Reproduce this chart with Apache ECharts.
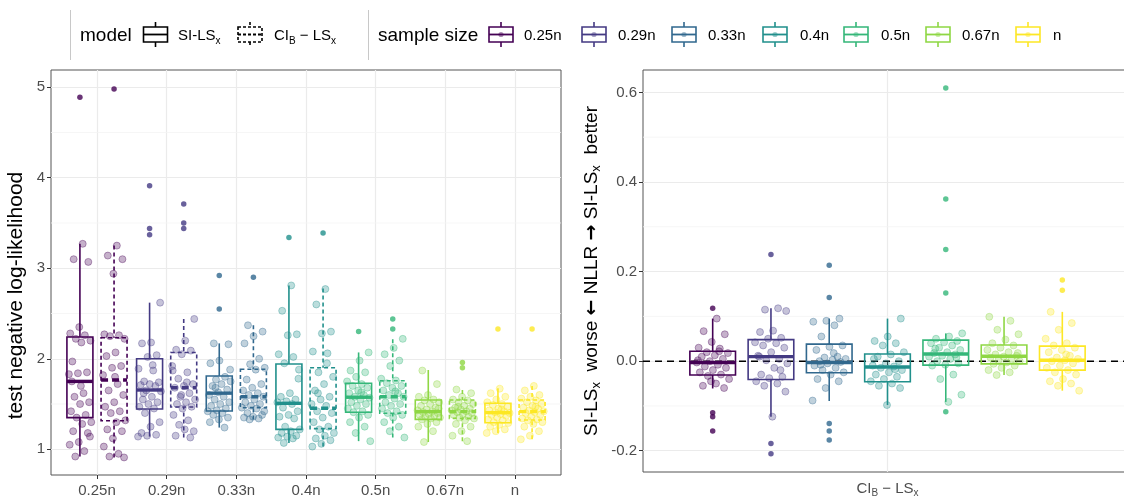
<!DOCTYPE html>
<html><head><meta charset="utf-8">
<script src="https://cdn.jsdelivr.net/npm/echarts@6/dist/echarts.min.js"></script>
<style>html,body{margin:0;padding:0;background:#fff}#c{width:1124px;height:498px}</style>
</head><body><div id="c"></div>
<script>
// ---------------- data ----------------
const sampleSizes = ['0.25n','0.29n','0.33n','0.4n','0.5n','0.67n','n'];
const colors = ['#440154','#443A83','#31688E','#21908C','#35B779','#8FD744','#FDE725'];
const leftTicks = [1,2,3,4,5];
const leftMinor = [1.5,2.5,3.5,4.5];
const rightTicks = [-0.2,0,0.2,0.4,0.6];
const rightMinor = [-0.1,0.1,0.3,0.5];

// box stats: [lower whisker, Q1, median, Q3, upper whisker]
const siBoxes = [
  [0.92,1.35,1.75,2.24,3.27],[1.14,1.445,1.655,2.00,2.62],[1.24,1.423,1.62,1.81,2.17],
  [1.07,1.22,1.508,1.943,2.81],[1.09,1.41,1.575,1.73,2.07],[1.08,1.331,1.416,1.545,1.876],
  [1.18,1.294,1.405,1.508,1.674]];
const ciBoxes = [
  [0.91,1.316,1.766,2.233,3.25],[1.13,1.467,1.68,2.07,2.44],[1.33,1.46,1.581,1.884,2.37],
  [1.03,1.228,1.453,1.90,2.775],[1.13,1.398,1.581,1.758,2.215],[1.09,1.342,1.416,1.545,1.655],
  [1.11,1.324,1.416,1.545,1.70]];
const siOutliers = [[4.89],[3.91,3.44,3.37],[2.92,2.55],[3.34],[2.30],[],[2.33]];
const ciOutliers = [[4.98],[3.71,3.50,3.44],[2.90],[3.39],[2.44,2.33],[1.96,1.90],[2.33]];
const siPoints = [
  [3.27,3.10,3.07,2.35,2.28,2.26,2.22,2.20,2.18,1.97,1.85,1.84,1.83,1.62,1.58,1.52,1.50,1.42,1.38,1.35,1.30,1.28,1.20,1.18,1.08,1.05,0.98,0.92,1.14,1.70,1.75],
  [2.62,2.18,2.17,2.04,2.02,1.89,1.87,1.75,1.74,1.72,1.71,1.70,1.65,1.64,1.58,1.55,1.52,1.50,1.47,1.45,1.40,1.30,1.25,1.18,1.16,1.15,1.14,1.93,1.62],
  [2.17,2.16,1.98,1.95,1.80,1.77,1.75,1.72,1.70,1.66,1.63,1.60,1.58,1.55,1.52,1.50,1.48,1.45,1.43,1.42,1.40,1.38,1.35,1.33,1.30,1.24,1.68,1.88],
  [2.81,2.53,2.27,2.26,2.05,2.02,1.95,1.88,1.62,1.58,1.55,1.53,1.52,1.50,1.46,1.42,1.38,1.36,1.34,1.25,1.22,1.20,1.18,1.15,1.14,1.13,1.12,1.07,1.78],
  [2.07,1.98,1.87,1.85,1.80,1.75,1.72,1.70,1.68,1.65,1.62,1.60,1.58,1.57,1.55,1.52,1.50,1.48,1.45,1.42,1.41,1.38,1.35,1.30,1.25,1.18,1.09,1.63],
  [1.87,1.72,1.60,1.58,1.55,1.54,1.52,1.50,1.48,1.46,1.44,1.43,1.42,1.41,1.40,1.39,1.38,1.37,1.36,1.35,1.34,1.33,1.30,1.28,1.25,1.20,1.08,1.45],
  [1.67,1.62,1.58,1.55,1.52,1.50,1.49,1.47,1.45,1.43,1.42,1.41,1.40,1.39,1.38,1.37,1.35,1.33,1.32,1.30,1.29,1.27,1.25,1.22,1.20,1.18,1.44]];
const ciPoints = [
  [3.25,3.14,3.10,2.94,2.27,2.26,2.25,2.22,2.07,2.03,1.92,1.90,1.82,1.72,1.65,1.60,1.52,1.47,1.42,1.40,1.32,1.30,1.22,1.20,1.12,1.03,0.95,0.92,0.91,1.80],
  [2.44,2.20,2.10,2.09,2.05,1.87,1.85,1.78,1.72,1.70,1.68,1.62,1.58,1.55,1.52,1.50,1.47,1.45,1.38,1.32,1.27,1.20,1.22,1.15,1.13,1.60,1.92,1.74],
  [2.37,2.30,2.25,2.17,2.00,1.94,1.90,1.88,1.77,1.72,1.68,1.65,1.62,1.60,1.58,1.55,1.52,1.50,1.48,1.46,1.45,1.40,1.38,1.36,1.35,1.34,1.33,1.42],
  [2.77,2.60,2.30,2.28,2.08,2.06,1.85,1.80,1.72,1.65,1.58,1.55,1.50,1.48,1.42,1.40,1.35,1.30,1.25,1.22,1.18,1.15,1.12,1.10,1.06,1.03,1.95,1.62],
  [2.22,2.12,2.05,1.98,1.92,1.78,1.76,1.73,1.70,1.68,1.65,1.62,1.60,1.58,1.56,1.52,1.50,1.48,1.45,1.42,1.40,1.38,1.35,1.30,1.25,1.20,1.13,1.64],
  [1.66,1.62,1.58,1.55,1.54,1.52,1.50,1.48,1.46,1.45,1.44,1.43,1.42,1.41,1.40,1.39,1.38,1.36,1.35,1.34,1.32,1.28,1.25,1.20,1.15,1.09,1.47],
  [1.70,1.65,1.60,1.58,1.56,1.54,1.52,1.50,1.48,1.46,1.45,1.43,1.42,1.41,1.40,1.38,1.36,1.34,1.33,1.32,1.30,1.28,1.25,1.20,1.15,1.11,1.47]];

// right panel: NLLR (CI_B - LS_x)
const diffBoxes = [
  [-0.061,-0.031,-0.003,0.022,0.095],[-0.124,-0.041,0.010,0.048,0.118],[-0.089,-0.026,-0.003,0.038,0.095],
  [-0.098,-0.046,-0.013,0.016,0.095],[-0.091,-0.009,0.016,0.047,0.062],[-0.031,-0.006,0.011,0.036,0.099],
  [-0.066,-0.020,0.002,0.0335,0.110]];
const diffOutliers = [[0.118,-0.115,-0.124,-0.156],[0.238,-0.184,-0.207],[0.214,0.142,-0.139,-0.156,-0.176],[],
  [0.61,0.362,0.249,0.152,-0.113],[],[0.181,0.158]];
const diffPoints = [
  [0.095,0.067,0.060,0.043,0.030,0.028,0.020,0.018,0.013,0.010,0.005,0.000,-0.003,-0.008,-0.012,-0.015,-0.020,-0.025,-0.030,-0.033,-0.040,-0.050,-0.055,-0.060,-0.045,0.002,0.022],
  [0.118,0.115,0.112,0.068,0.065,0.052,0.050,0.042,0.040,0.035,0.030,0.020,0.012,0.005,0.002,-0.005,-0.015,-0.030,-0.035,-0.038,-0.045,-0.050,-0.055,-0.068,-0.124,0.010,-0.020],
  [0.095,0.090,0.088,0.080,0.055,0.035,0.032,0.025,0.010,0.008,0.005,0.003,0.000,-0.002,-0.005,-0.010,-0.015,-0.020,-0.025,-0.030,-0.040,-0.045,-0.060,-0.088,0.018,-0.008],
  [0.095,0.055,0.045,0.040,0.035,0.020,0.015,0.010,0.000,-0.005,-0.010,-0.012,-0.015,-0.020,-0.025,-0.030,-0.035,-0.040,-0.045,-0.050,-0.055,-0.060,-0.098,0.005,-0.018],
  [0.062,0.055,0.050,0.045,0.042,0.040,0.035,0.030,0.025,0.020,0.018,0.015,0.012,0.010,0.005,0.000,-0.005,-0.008,-0.010,-0.030,-0.040,-0.075,-0.091,0.028,0.008],
  [0.099,0.090,0.070,0.060,0.048,0.040,0.035,0.030,0.025,0.020,0.015,0.012,0.010,0.008,0.005,0.002,0.000,-0.003,-0.006,-0.010,-0.015,-0.020,-0.025,-0.031,0.018],
  [0.110,0.085,0.070,0.050,0.040,0.035,0.030,0.025,0.020,0.012,0.008,0.005,0.002,0.000,-0.005,-0.010,-0.015,-0.020,-0.025,-0.030,-0.040,-0.045,-0.050,-0.055,-0.066,0.015]];

// ---------------- helpers ----------------
const FONT = '"Liberation Sans", Arial, Helvetica, sans-serif';
const rgba = (hex, a) => { const n = parseInt(hex.slice(1), 16); return `rgba(${n >> 16},${(n >> 8) & 255},${n & 255},${a})`; };
const jit = i => ((((i + 1) * 0.6180339887) % 1) - 0.5) * 2;

const LEFT_DODGE = 0.245, LEFT_BW = 0.373, LEFT_JIT = 0.17;
const RIGHT_STEP = 0.143, RIGHT_BW = 0.112, RIGHT_JIT = 0.042;

function boxRender(bw, dashed) {
  return function (params, api) {
    const x = api.value(0);
    const lo = api.coord([x, api.value(1)]);
    const q1 = api.coord([x, api.value(2)]);
    const md = api.coord([x, api.value(3)]);
    const q3 = api.coord([x, api.value(4)]);
    const hi = api.coord([x, api.value(5)]);
    const w = api.size([bw, 0])[0];
    const col = colors[api.value(6)];
    const dash = dashed ? [4, 3] : null;
    const ls = { stroke: col, lineWidth: 1.6, lineDash: dash, fill: null };
    return {
      type: 'group', children: [
        { type: 'line', shape: { x1: hi[0], y1: hi[1], x2: q3[0], y2: q3[1] }, style: ls },
        { type: 'line', shape: { x1: lo[0], y1: lo[1], x2: q1[0], y2: q1[1] }, style: ls },
        { type: 'rect', shape: { x: q3[0] - w / 2, y: q3[1], width: w, height: q1[1] - q3[1] }, style: { stroke: col, lineWidth: 1.6, lineDash: dash, fill: 'rgba(255,255,255,0)' } },
        { type: 'line', shape: { x1: md[0] - w / 2, y1: md[1], x2: md[0] + w / 2, y2: md[1] }, style: { stroke: col, lineWidth: 3.4, lineDash: dashed ? [7, 4] : null } }
      ]
    };
  };
}
function hLineRender(style) {
  return function (params, api) {
    const p = api.coord([api.value(0), api.value(1)]);
    const cs = params.coordSys;
    return { type: 'line', shape: { x1: cs.x, y1: p[1], x2: cs.x + cs.width, y2: p[1] }, style: style };
  };
}

// left-panel series data
const boxDataSI = siBoxes.map((b, i) => [i + 1 - LEFT_DODGE, ...b, i]);
const boxDataCI = ciBoxes.map((b, i) => [i + 1 + LEFT_DODGE, ...b, i]);
const jitterLeft = [], outLeft = [];
[[siPoints, siOutliers, -LEFT_DODGE], [ciPoints, ciOutliers, LEFT_DODGE]].forEach(([pts, outs, dx]) => {
  pts.forEach((arr, g) => arr.forEach((v, k) => jitterLeft.push({
    value: [g + 1 + dx + jit(k + g * 7) * LEFT_JIT, v],
    itemStyle: { color: rgba(colors[g], 0.38), borderColor: rgba(colors[g], 0.55), borderWidth: 0.8 }
  })));
  outs.forEach((arr, g) => arr.forEach(v => outLeft.push({ value: [g + 1 + dx, v], itemStyle: { color: colors[g] } })));
});
// right-panel series data
const rightX = g => 1 + (g - 3) * RIGHT_STEP;
const boxDataDiff = diffBoxes.map((b, i) => [rightX(i), ...b, i]);
const jitterRight = [], outRight = [];
diffPoints.forEach((arr, g) => arr.forEach((v, k) => jitterRight.push({
  value: [rightX(g) + jit(k + g * 5) * RIGHT_JIT, v],
  itemStyle: { color: rgba(colors[g], 0.38), borderColor: rgba(colors[g], 0.55), borderWidth: 0.8 }
})));
diffOutliers.forEach((arr, g) => arr.forEach(v => outRight.push({ value: [rightX(g), v], itemStyle: { color: colors[g] } })));

// ---------------- legend (graphic) ----------------
const richSub = (size) => ({
  a: { fontSize: size, fontFamily: FONT, color: '#000', lineHeight: size + 6 },
  s: { fontSize: Math.round(size * 0.68), fontFamily: FONT, color: '#000', lineHeight: 10, verticalAlign: 'bottom' }
});
function keyGlyph(cx, col, dashed, dot) {
  const dash = dashed ? [3, 2] : null;
  const st = { stroke: col, lineWidth: 1.6, lineDash: dash, fill: null };
  const els = [
    { type: 'line', shape: { x1: cx, y1: 22, x2: cx, y2: 27 }, style: st },
    { type: 'line', shape: { x1: cx, y1: 42, x2: cx, y2: 47 }, style: st },
    { type: 'rect', shape: { x: cx - 12, y: 27, width: 24, height: 15 }, style: { stroke: col, lineWidth: 1.6, lineDash: dash, fill: '#fff' } },
    { type: 'line', shape: { x1: cx - 12, y1: 34.5, x2: cx + 12, y2: 34.5 }, style: { stroke: col, lineWidth: 1.8, lineDash: dash } }
  ];
  if (dot) els.push({ type: 'circle', shape: { cx: cx, cy: 34.5, r: 2.6 }, style: { fill: rgba(col, 0.45), stroke: null } });
  return els;
}
const keyX = [501, 594, 684, 775, 856, 938, 1028];
const labX = [524, 618, 708, 800, 881, 962, 1053];
const graphics = [
  { type: 'line', shape: { x1: 70.5, y1: 10, x2: 70.5, y2: 60 }, style: { stroke: '#C8C8C8', lineWidth: 1 } },
  { type: 'line', shape: { x1: 368.5, y1: 10, x2: 368.5, y2: 60 }, style: { stroke: '#C8C8C8', lineWidth: 1 } },
  { type: 'text', x: 80, y: 36, style: { text: 'model', font: '19px ' + FONT, fill: '#000', verticalAlign: 'middle' } },
  ...keyGlyph(155.5, '#000', false, false),
  { type: 'text', x: 178, y: 36, style: { text: '{a|SI-LS}{s|x}', rich: richSub(15), verticalAlign: 'middle' } },
  ...keyGlyph(250, '#000', true, false),
  { type: 'text', x: 274, y: 36, style: { text: '{a|CI}{s|B}{a| − LS}{s|x}', rich: richSub(15), verticalAlign: 'middle' } },
  { type: 'text', x: 378, y: 36, style: { text: 'sample size', font: '19px ' + FONT, fill: '#000', verticalAlign: 'middle' } }
];
sampleSizes.forEach((s, i) => {
  graphics.push(...keyGlyph(keyX[i], colors[i], false, true));
  graphics.push({ type: 'text', x: labX[i], y: 36, style: { text: s, font: '15px ' + FONT, fill: '#000', verticalAlign: 'middle' } });
});

// ---------------- chart ----------------
const gridLine = { show: true, lineStyle: { color: '#EBEBEB', width: 1.2 } };
const tickStyle = { show: true, length: 4, lineStyle: { color: '#333', width: 1 } };
const labelStyle = { color: '#4D4D4D', fontSize: 15, fontFamily: FONT };

const option = {
  animation: false,
  backgroundColor: '#fff',
  graphic: graphics,
  grid: [
    { left: 51, top: 70, width: 510, height: 405, show: true, borderColor: '#555', borderWidth: 1, backgroundColor: 'transparent', outerBoundsMode: 'none' },
    { left: 643, top: 70, width: 489, height: 402, show: true, borderColor: '#555', borderWidth: 1, backgroundColor: 'transparent', outerBoundsMode: 'none' }
  ],
  xAxis: [
    { type: 'value', gridIndex: 0, min: 0.34, max: 7.66, axisLine: { show: false },
      axisTick: { ...tickStyle, customValues: sampleSizes.map((s, i) => i + 1) },
      axisLabel: { ...labelStyle, margin: 8, customValues: sampleSizes.map((s, i) => i + 1), formatter: v => sampleSizes[Math.round(v) - 1] },
      splitLine: gridLine },
    { type: 'value', gridIndex: 1, min: 0.4, max: 1.6, axisLine: { show: false },
      axisTick: { ...tickStyle, customValues: [1] },
      axisLabel: { margin: 8, customValues: [1], formatter: () => '{a|CI}{s|B}{a| − LS}{s|x}',
        rich: { a: { color: '#4D4D4D', fontSize: 15, fontFamily: FONT, lineHeight: 18 }, s: { color: '#4D4D4D', fontSize: 10, fontFamily: FONT, lineHeight: 8, verticalAlign: 'bottom' } } },
      splitLine: gridLine }
  ],
  yAxis: [
    { type: 'value', gridIndex: 0, min: 0.716, max: 5.19, axisLine: { show: false },
      axisTick: { ...tickStyle, customValues: leftTicks },
      axisLabel: { ...labelStyle, margin: 6, customValues: leftTicks },
      splitLine: gridLine,
      name: 'test negative log-likelihood', nameLocation: 'middle', nameGap: 24,
      nameTextStyle: { color: '#000', fontSize: 21, fontFamily: FONT, padding: [0, 46, 0, 0] } },
    { type: 'value', gridIndex: 1, min: -0.2475, max: 0.65, axisLine: { show: false },
      axisTick: { ...tickStyle, customValues: rightTicks },
      axisLabel: { ...labelStyle, margin: 6, customValues: rightTicks, formatter: v => v.toFixed(1) },
      splitLine: gridLine,
      name: '{a|SI-LS}{s|x}{a|  worse }{r|←}{a| NLLR }{r|→}{a| SI-LS}{s|x}{a|  better}', nameLocation: 'middle', nameGap: 40,
      nameTextStyle: { rich: {
        a: { color: '#000', fontSize: 19, fontFamily: FONT, lineHeight: 22 },
        r: { color: '#000', fontSize: 19, fontFamily: '"DejaVu Sans", sans-serif', fontWeight: 'bold', lineHeight: 22 },
        s: { color: '#000', fontSize: 13, fontFamily: FONT, lineHeight: 10, verticalAlign: 'bottom' } } } }
  ],
  series: [
    { type: 'custom', xAxisIndex: 0, yAxisIndex: 0, z: 1, silent: true, data: leftMinor.map(v => [1, v]),
      renderItem: hLineRender({ stroke: '#F4F4F4', lineWidth: 0.8 }) },
    { type: 'custom', xAxisIndex: 0, yAxisIndex: 0, z: 3, silent: true, data: boxDataSI, renderItem: boxRender(LEFT_BW, false) },
    { type: 'custom', xAxisIndex: 0, yAxisIndex: 0, z: 3, silent: true, data: boxDataCI, renderItem: boxRender(LEFT_BW, true) },
    { type: 'scatter', xAxisIndex: 0, yAxisIndex: 0, z: 4, silent: true, symbolSize: 7, data: jitterLeft },
    { type: 'scatter', xAxisIndex: 0, yAxisIndex: 0, z: 5, silent: true, symbolSize: 5.5, data: outLeft },

    { type: 'custom', xAxisIndex: 1, yAxisIndex: 1, z: 1, silent: true, data: rightMinor.map(v => [1, v]),
      renderItem: hLineRender({ stroke: '#F4F4F4', lineWidth: 0.8 }) },
    { type: 'custom', xAxisIndex: 1, yAxisIndex: 1, z: 2, silent: true, data: [[1, 0]],
      renderItem: hLineRender({ stroke: '#000', lineWidth: 1.5, lineDash: [7, 5] }) },
    { type: 'custom', xAxisIndex: 1, yAxisIndex: 1, z: 3, silent: true, data: boxDataDiff, renderItem: boxRender(RIGHT_BW, false) },
    { type: 'scatter', xAxisIndex: 1, yAxisIndex: 1, z: 4, silent: true, symbolSize: 7, data: jitterRight },
    { type: 'scatter', xAxisIndex: 1, yAxisIndex: 1, z: 5, silent: true, symbolSize: 5.5, data: outRight }
  ]
};
const chart = echarts.init(document.getElementById('c'), null, { renderer: 'canvas' });
chart.setOption(option);
</script></body></html>
